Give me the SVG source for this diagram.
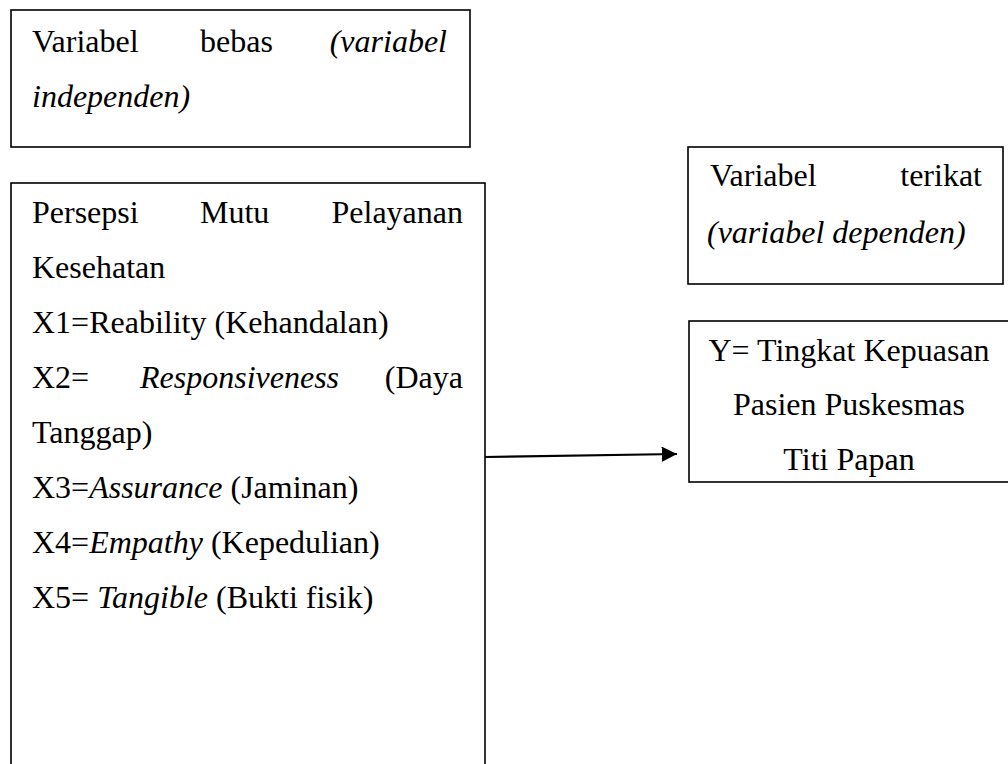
<svg xmlns="http://www.w3.org/2000/svg" width="1008" height="764" viewBox="0 0 1008 764">
<defs>
<style>
.box{fill:#fff;stroke:#000;stroke-width:1.6}
.t{font-family:"Liberation Serif","Times New Roman",serif;font-size:32px;fill:#000}
.i{font-style:italic}
.conn{stroke:#000;stroke-width:2.2;fill:none}
</style>
<marker id="ah" viewBox="0 0 10 10" refX="10" refY="5" markerWidth="7" markerHeight="7" markerUnits="strokeWidth" orient="auto">
<path d="M0,0 L10,5 L0,10 z" fill="#000"/>
</marker>
</defs>
<rect width="1008" height="764" fill="#fff"/>
<g id="independen-label">
<rect class="box" x="11" y="10" width="459" height="137"/>
<text class="t" x="32" y="52">Variabel</text>
<text class="t" x="200" y="52">bebas</text>
<text class="t i" x="447" y="52" text-anchor="end">(variabel</text>
<text class="t i" x="32" y="107">independen)</text>
</g>
<g id="independen-vars">
<rect class="box" x="11" y="183" width="474" height="600"/>
<text class="t" x="32" y="223">Persepsi</text>
<text class="t" x="200" y="223">Mutu</text>
<text class="t" x="463" y="223" text-anchor="end">Pelayanan</text>
<text class="t" x="32" y="278">Kesehatan</text>
<text class="t" x="32" y="333">X1=Reability (Kehandalan)</text>
<text class="t" x="32" y="388">X2=</text>
<text class="t i" x="140" y="388">Responsiveness</text>
<text class="t" x="463" y="388" text-anchor="end">(Daya</text>
<text class="t" x="32" y="443">Tanggap)</text>
<text class="t" x="32" y="498">X3=<tspan class="i">Assurance</tspan> (Jaminan)</text>
<text class="t" x="32" y="553">X4=<tspan class="i">Empathy</tspan> (Kepedulian)</text>
<text class="t" x="32" y="608">X5= <tspan class="i">Tangible</tspan> (Bukti fisik)</text>
</g>
<g id="dependen-label">
<rect class="box" x="688" y="147" width="315" height="137"/>
<text class="t" x="710" y="186">Variabel</text>
<text class="t" x="982" y="186" text-anchor="end">terikat</text>
<text class="t i" x="707" y="243">(variabel dependen)</text>
</g>
<g id="dependen-var">
<rect class="box" x="689" y="321" width="330" height="161"/>
<text class="t" x="849" y="361" text-anchor="middle">Y= Tingkat Kepuasan</text>
<text class="t" x="849" y="415" text-anchor="middle">Pasien Puskesmas</text>
<text class="t" x="849" y="470" text-anchor="middle">Titi Papan</text>
</g>
<g id="connectors">
<line class="conn" x1="485" y1="457" x2="677" y2="454" marker-end="url(#ah)"/>
</g>
</svg>
